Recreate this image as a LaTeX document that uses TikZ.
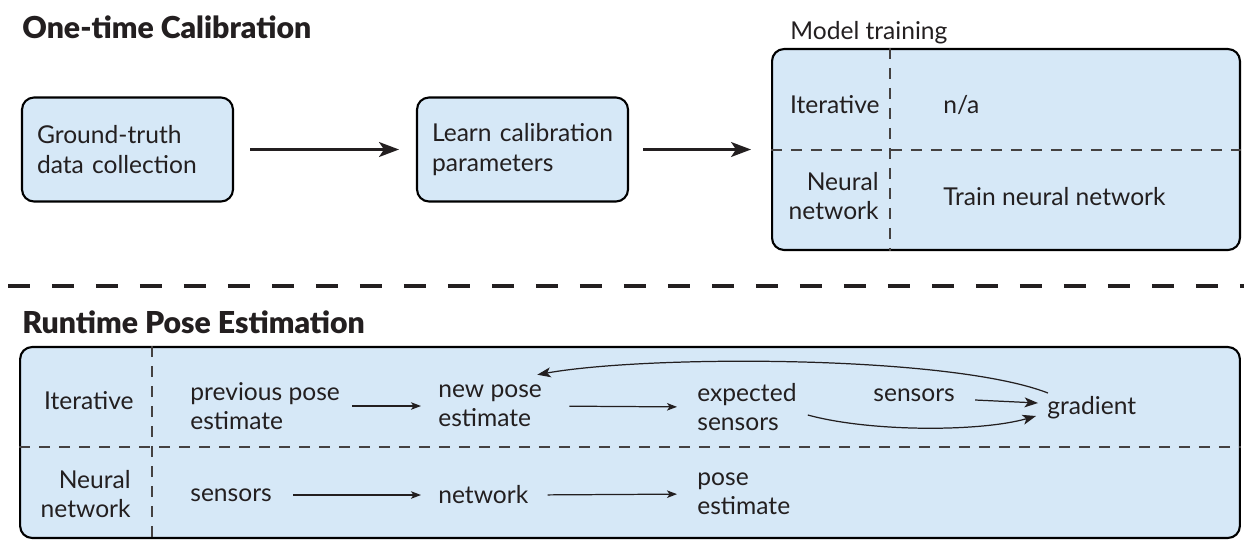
\documentclass[tikz,border=0pt]{standalone}
\usepackage{fontspec}
\setmainfont{Lato}
\newfontfamily\ttlfont{Lato Black}
\usetikzlibrary{arrows.meta,calc}
\definecolor{boxblue}{RGB}{214,232,247}
\definecolor{ink}{RGB}{35,31,32}
\tikzset{
  px/.style={x=0.02cm,y=-0.02cm},
  txt/.style={inner sep=0pt,text=ink,font=\fontsize{14}{16.5}\selectfont},
  ttl/.style={inner sep=0pt,text=ink,font=\fontsize{17.2}{19}\selectfont\ttlfont},
  bigbox/.style={draw=black,fill=boxblue,line width=1.2pt,rounded corners=0.24cm},
  stepbox/.style={bigbox,minimum height=2.08cm,text width=3.62cm,inner xsep=0.3cm,align=left,text=ink,font=\fontsize{14}{17}\selectfont},
  bigarrow/.style={line width=1.15pt,draw=ink,-{Stealth[length=0.4cm,width=0.3cm,inset=0.1cm]}},
  smallarrow/.style={line width=0.7pt,draw=ink,-{Stealth[length=0.2cm,width=0.15cm,inset=0.05cm]}},
  curvearrow/.style={line width=0.7pt,draw=ink,-{Stealth[length=0.27cm,width=0.2cm,inset=0.07cm]}},
  innerdash/.style={draw=ink!85,line width=0.6pt,dash pattern=on 0.22cm off 0.18cm},
  sepdash/.style={draw=ink,line width=2pt,dash pattern=on 0.44cm off 0.44cm},
}
\begin{document}
\begin{tikzpicture}[px]
\useasboundingbox (0,0) rectangle (1244,542);
% ---------- top section ----------
\node[ttl,anchor=west] (t1) at (22,27) {One-time Calibration};
\node[stepbox] (b1) at (127.5,149.5) {Ground-truth\\data collection};
\node[stepbox] (b2) at (522.5,149.5) {Learn calibration\\parameters};
\node[bigbox,minimum width=9.36cm,minimum height=4.02cm] (mt) at (1006,149.5) {};
\node[txt,anchor=west] (mtl) at (790,33) {Model training};
\coordinate (mv) at (890,0);
\coordinate (mh) at (0,150);
\draw[innerdash] (mt.north -| mv) -- (mt.south -| mv);
\draw[innerdash] (mt.west |- mh) -- (mt.east |- mh);
\node[txt,anchor=east] (mit) at (880,105) {Iterative};
\node[txt,anchor=west] (mna) at (943,105) {n/a};
\node[txt,anchor=east,align=right] (mnn) at (879,196) {Neural\\network};
\node[txt,anchor=west] (mtr) at (943,197) {Train neural network};
\draw[bigarrow,shorten <=0.32cm,shorten >=0.34cm] (b1) -- (b2);
\draw[bigarrow,shorten <=0.28cm,shorten >=0.4cm] (b2) -- (mt);
% ---------- separator ----------
\coordinate (sl) at (8,286);
\coordinate (sr) at (1250,286);
\draw[sepdash] (sl) -- (sr);
% ---------- runtime section ----------
\node[ttl,anchor=west] (t2) at (22,322) {Runtime Pose Estimation};
\node[bigbox,minimum width=24.4cm,minimum height=3.82cm] (rt) at (630,442.5) {};
\coordinate (rv) at (152,0);
\coordinate (rh) at (0,447);
\draw[innerdash] (rt.north -| rv) -- (rt.south -| rv);
\draw[innerdash] (rt.west |- rh) -- (rt.east |- rh);
\node[txt,anchor=east] (rit) at (134,401) {Iterative};
\node[txt,anchor=east,align=right] (rnn) at (131,494) {Neural\\network};
\node[txt,anchor=west,align=left] (prev) at (190,406) {previous pose\\estimate};
\node[txt,anchor=west,align=left] (new) at (438,406) {new pose\\estimate};
\node[txt,anchor=west,align=left] (exp) at (697,407) {expected\\sensors};
\node[txt,anchor=west] (sen) at (873,395) {sensors};
\node[txt,anchor=west] (grad) at (1047,408) {gradient};
\node[txt,anchor=west] (sen2) at (190,495) {sensors};
\node[txt,anchor=west] (net) at (438,495) {network};
\node[txt,anchor=west,align=left] (pose) at (697,494) {pose\\estimate};
\draw[smallarrow,shorten <=0.24cm,shorten >=0.34cm] (prev.east) -- (new.west);
\draw[smallarrow,shorten <=0.54cm,shorten >=0.4cm] (new.east) -- (exp.west);
\draw[smallarrow,shorten <=0.42cm,shorten >=0.34cm] (sen2.east) -- (net.west);
\draw[smallarrow,shorten <=0.38cm,shorten >=0.4cm] (net.east) -- (pose.west);
\draw[curvearrow] ([shift={(0.4cm,-0.1cm)}]sen.east) -- ([shift={(-0.18cm,0.1cm)}]grad.west);
\draw[curvearrow] ([shift={(0.22cm,-0.16cm)}]exp.east) .. controls +(62,17) and +(-56,16) .. ([shift={(-0.22cm,-0.16cm)}]grad.west);
\draw[curvearrow] ([shift={(0.02cm,0.3cm)}]grad.west) .. controls +(-98,-38) and +(112,-20) .. ([shift={(-0.1cm,0.2cm)}]new.north east);
\end{tikzpicture}
\end{document}
